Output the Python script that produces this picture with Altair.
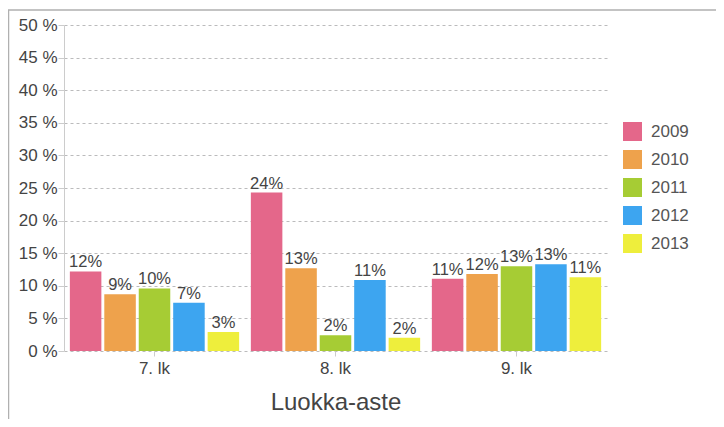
import altair as alt
import pandas as pd

grades = ["7. lk", "8. lk", "9. lk"]
years = ["2009", "2010", "2011", "2012", "2013"]
colors = ["#e4678a", "#eea24c", "#a6cc34", "#3da5f0", "#eeee3c"]
y_ticks = [0, 5, 10, 15, 20, 25, 30, 35, 40, 45, 50]

v2009 = [12.2, 24.3, 11.1]
v2010 = [8.7, 12.7, 11.8]
v2011 = [9.6, 2.4, 13.0]
v2012 = [7.4, 10.9, 13.3]
v2013 = [2.9, 2.05, 11.3]

series = {"2009": v2009, "2010": v2010, "2011": v2011, "2012": v2012, "2013": v2013}
rows = []
for y, vals in series.items():
    for g, v in zip(grades, vals):
        rows.append({"grade": g, "year": y, "value": v})
df = pd.DataFrame(rows)

FONT = "Liberation Sans"
TXT = "#444444"

base = alt.Chart(df).encode(
    x=alt.X("grade:N", sort=grades,
            scale=alt.Scale(paddingInner=0, paddingOuter=0),
            axis=alt.Axis(title="Luokka-aste", labelAngle=0, labelFontSize=17,
                          labelColor=TXT, labelFont=FONT, titleFont=FONT,
                          titleFontSize=24, titleFontWeight="normal", titleColor=TXT,
                          titlePadding=14, tickSize=5, tickColor="#cccccc",
                          labelPadding=4, domain=False, grid=False)),
    xOffset=alt.XOffset("year:N", sort=years,
                        scale=alt.Scale(paddingInner=0.085, paddingOuter=0.17)),
    y=alt.Y("value:Q", scale=alt.Scale(domain=[0, 50]),
            axis=alt.Axis(title=None, values=y_ticks, labelOverlap=False,
                          labelExpr="datum.value + ' %'", labelFontSize=17,
                          labelColor=TXT, labelFont=FONT, tickSize=6,
                          tickColor="#cccccc", labelPadding=1,
                          domainColor="#cccccc", gridColor="#bbbbbc",
                          gridDash=[3, 3], grid=True)),
)

bars = base.mark_bar().encode(
    color=alt.Color("year:N", sort=years,
                    scale=alt.Scale(domain=years, range=colors),
                    legend=alt.Legend(title=None, orient="none", legendX=559,
                                      legendY=97, symbolType="square",
                                      symbolSize=361, symbolStrokeWidth=0,
                                      labelFontSize=17, labelColor="#555555",
                                      labelFont=FONT, labelOffset=9,
                                      rowPadding=9)),
)

labels = base.mark_text(baseline="bottom", dy=-1, fontSize=16.5, font=FONT,
                        color=TXT).encode(
    text=alt.Text("label:N"),
).transform_calculate(label="format(datum.value, '.0f') + '%'")

frame = alt.Chart(pd.DataFrame({"a": [0]})).mark_rect(
    fill=None, stroke="#b0b0b0", strokeWidth=1.5, clip=False
).encode(x=alt.value(-55.5), x2=alt.value(800), y=alt.value(-15), y2=alt.value(600))

chart = alt.layer(bars, labels, frame).properties(
    width=543, height=326,
    autosize=alt.AutoSizeParams(type="none"),
    padding={"left": 56, "top": 17, "right": 109, "bottom": 68},
).configure(background="white").configure_view(stroke=None)

chart.save("out.html", embed_options={"renderer": "svg", "actions": False})
